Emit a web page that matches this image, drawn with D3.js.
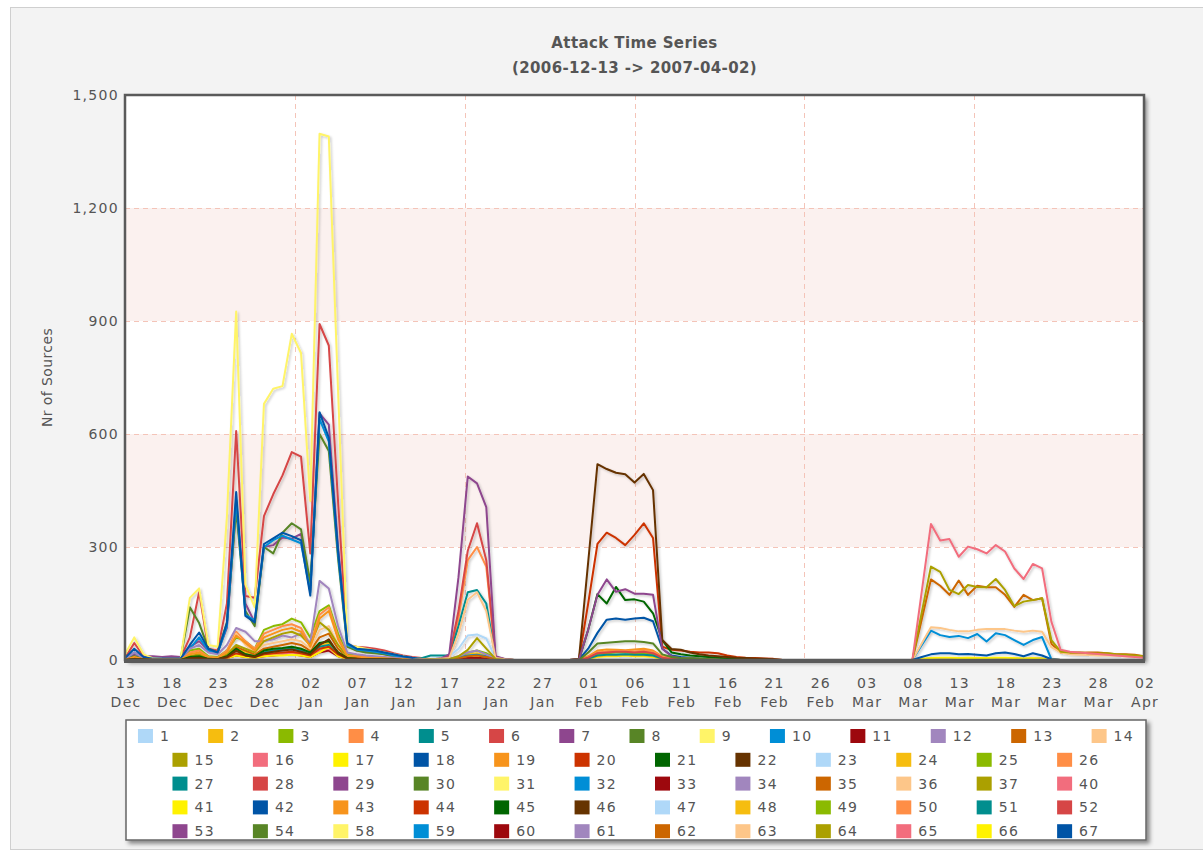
<!DOCTYPE html>
<html><head><meta charset="utf-8">
<script src="https://cdn.jsdelivr.net/npm/d3@7"></script>
<style>html,body{margin:0;padding:0;background:#fff;}svg{display:block;}</style>
</head><body>
<svg id="chart" width="1203" height="855"></svg>
<script>
// ---------- DATA ----------
const chartTitle = "Attack Time Series";
const chartSubtitle = "(2006-12-13 -> 2007-04-02)";
const yAxisTitle = "Nr of Sources";
const startDay = "2006-12-13";
const dayCount = 111;
const yTicks = [0, 300, 600, 900, 1200, 1500];
const xTickDays = ["13","18","23","28","02","07","12","17","22","27","01","06","11","16","21","26","03","08","13","18","23","28","02"];
const xTickMonths = ["Dec","Dec","Dec","Dec","Jan","Jan","Jan","Jan","Jan","Jan","Feb","Feb","Feb","Feb","Feb","Feb","Mar","Mar","Mar","Mar","Mar","Mar","Apr"];
const seriesNames = [1,2,3,4,5,6,7,8,9,10,11,12,13,14,15,16,17,18,19,20,21,22,23,24,25,26,27,28,29,30,31,32,33,34,35,36,37,40,41,42,43,44,45,46,47,48,49,50,51,52,53,54,58,59,60,61,62,63,64,65,66,67];
const palette = ["#AFD8F8","#F6BD0F","#8BBA00","#FF8E46","#008E8E","#D64646","#8E468E","#588526","#FFF468","#008ED6","#9D080D","#A186BE","#CC6600","#FDC689","#ABA000","#F26D7D","#FFF200","#0054A6","#F7941C","#CC3300","#006600","#663300"];

// one value per day, 13 Dec 2006 .. 02 Apr 2007 (groups of ten days)
const s1  = [1,8,2,1,1,1,1,6,8,3,  2,8,20,15,10,20,22,25,28,25,  15,35,40,18,5,4,3,2,1,1,  0,0,0,0,0,0,0,0,0,0,  0,0,0,0,0,0,0,0,0,0,  0,0,0,0,0,0,0,0,0,0,  0,0,0,0,0,0,0,0,0,0,  0,0,0,0,0,0,0,0,0,0,  0,0,0,0,0,0,0,0,0,0,  0,0,0,0,0,0,0,0,0,0,  0,0,0,0,0,0,0,0,0,0,  0];
const s2  = [1,5,2,1,1,1,1,8,10,4,  3,10,30,20,12,25,28,30,35,30,  18,40,45,20,5,4,3,2,2,1,  0,0,0,0,0,0,0,0,0,0,  0,0,0,0,0,0,0,0,0,0,  0,0,0,0,0,0,0,0,0,0,  0,0,0,0,0,0,0,0,0,0,  0,0,0,0,0,0,0,0,0,0,  0,0,0,0,0,0,0,0,0,0,  0,0,0,0,0,0,0,0,0,0,  0,0,0,0,0,0,0,0,0,0,  0];
const s3  = [2,8,3,2,2,2,2,25,30,10,  8,25,60,50,30,80,90,95,110,100,  60,130,145,70,15,12,10,8,6,5,  3,0,0,0,0,0,0,0,0,0,  0,0,0,0,0,0,0,0,0,0,  0,0,0,0,0,0,0,0,0,0,  0,0,0,0,0,0,0,0,0,0,  0,0,0,0,0,0,0,0,0,0,  0,0,0,0,0,0,0,0,0,0,  0,0,0,0,0,0,0,0,0,0,  0,0,0,0,0,0,0,0,0,0,  0];
const s4  = [2,10,3,2,2,2,2,20,25,8,  6,25,75,50,30,70,80,90,95,85,  40,120,140,60,12,10,8,6,5,4,  2,0,0,0,0,0,0,0,0,0,  0,0,0,0,0,0,0,0,0,0,  0,0,0,0,0,0,0,0,0,0,  0,0,0,0,0,0,0,0,0,0,  0,0,0,0,0,0,0,0,0,0,  0,0,0,0,0,0,0,0,0,0,  0,0,0,0,0,0,0,0,0,0,  0,0,0,0,0,0,0,0,0,0,  0];
const s5  = [1,3,1,1,1,1,1,8,10,4,  3,8,25,15,10,20,25,28,30,25,  15,35,40,15,5,4,3,2,1,1,  0,0,0,0,0,0,0,0,0,0,  0,0,0,0,0,0,0,0,0,0,  0,0,0,0,0,0,0,0,0,0,  0,0,0,0,0,0,0,0,0,0,  0,0,0,0,0,0,0,0,0,0,  0,0,0,0,0,0,0,0,0,0,  0,0,0,0,0,0,0,0,0,0,  0,0,0,0,0,0,0,0,0,0,  0];
const s6  = [5,45,10,5,5,5,5,60,180,30,  25,150,608,170,165,382,440,490,552,540,  283,892,835,420,40,35,33,30,25,18,  12,8,5,2,0,0,0,0,0,0,  0,0,0,0,0,0,0,0,0,0,  0,0,0,0,0,0,0,0,0,0,  0,0,0,0,0,0,0,0,0,0,  0,0,0,0,0,0,0,0,0,0,  0,0,0,0,0,0,0,0,0,0,  0,0,0,0,0,0,0,0,0,0,  0,0,0,0,0,0,0,0,0,0,  0];
const s7  = [3,15,10,10,8,10,8,35,50,25,  20,85,410,150,100,300,305,325,322,335,  185,655,625,300,40,25,22,20,15,10,  6,3,0,0,0,0,0,0,0,0,  0,0,0,0,0,0,0,0,0,0,  0,0,0,0,0,0,0,0,0,0,  0,0,0,0,0,0,0,0,0,0,  0,0,0,0,0,0,0,0,0,0,  0,0,0,0,0,0,0,0,0,0,  0,0,0,0,0,0,0,0,0,0,  0,0,0,0,0,0,0,0,0,0,  0];
const s8  = [3,10,5,3,3,3,3,140,98,30,  20,100,400,130,90,300,283,338,363,347,  205,600,555,270,35,25,20,18,15,10,  6,3,0,0,0,0,0,0,0,0,  0,0,0,0,0,0,0,0,0,0,  0,0,0,0,0,0,0,0,0,0,  0,0,0,0,0,0,0,0,0,0,  0,0,0,0,0,0,0,0,0,0,  0,0,0,0,0,0,0,0,0,0,  0,0,0,0,0,0,0,0,0,0,  0,0,0,0,0,0,0,0,0,0,  0];
const s9  = [15,60,15,5,3,2,3,165,190,40,  35,380,925,200,140,680,720,727,866,815,  422,1397,1390,715,40,35,30,25,20,15,  10,5,3,0,0,0,0,0,0,0,  0,0,0,0,0,0,0,0,0,0,  0,0,0,0,0,0,0,0,0,0,  0,0,0,0,0,0,0,0,0,0,  0,0,0,0,0,0,0,0,0,0,  0,0,0,0,0,0,0,0,0,0,  0,0,0,0,0,0,0,0,0,0,  0,0,0,0,0,0,0,0,0,0,  0];
const s10 = [3,20,5,3,3,3,3,30,60,25,  18,90,425,120,105,300,318,330,320,310,  180,640,580,280,40,28,25,22,18,12,  8,5,2,0,0,0,0,0,0,0,  0,0,0,0,0,0,0,0,0,0,  0,0,0,0,0,0,0,0,0,0,  0,0,0,0,0,0,0,0,0,0,  0,0,0,0,0,0,0,0,0,0,  0,0,0,0,0,0,0,0,0,0,  0,0,0,0,0,0,0,0,0,0,  0,0,0,0,0,0,0,0,0,0,  0];
const s11 = [0,2,1,0,0,0,0,4,5,2,  2,5,12,8,6,10,12,14,15,12,  8,20,25,10,3,2,2,1,1,0,  0,0,0,0,0,0,0,0,0,0,  0,0,0,0,0,0,0,0,0,0,  0,0,0,0,0,0,0,0,0,0,  0,0,0,0,0,0,0,0,0,0,  0,0,0,0,0,0,0,0,0,0,  0,0,0,0,0,0,0,0,0,0,  0,0,0,0,0,0,0,0,0,0,  0,0,0,0,0,0,0,0,0,0,  0];
const s12 = [2,20,5,3,3,3,3,30,40,20,  15,40,85,75,50,50,55,65,60,70,  45,210,190,90,20,15,12,10,8,6,  4,2,0,0,0,0,0,0,0,0,  0,0,0,0,0,0,0,0,0,0,  0,0,0,0,0,0,0,0,0,0,  0,0,0,0,0,0,0,0,0,0,  0,0,0,0,0,0,0,0,0,0,  0,0,0,0,0,0,0,0,0,0,  0,0,0,0,0,0,0,0,0,0,  0,0,0,0,0,0,0,0,0,0,  0];
const s13 = [1,5,2,1,1,1,1,10,12,5,  4,12,35,25,15,30,35,40,45,40,  25,60,70,30,8,6,5,4,3,2,  1,0,0,0,0,0,0,0,0,0,  0,0,0,0,0,0,0,0,0,0,  0,0,0,0,0,0,0,0,0,0,  0,0,0,0,0,0,0,0,0,0,  0,0,0,0,0,0,0,0,0,0,  0,0,0,0,0,0,0,0,0,0,  0,0,0,0,0,0,0,0,0,0,  0,0,0,0,0,0,0,0,0,0,  0];
const s14 = [1,4,2,1,1,1,1,8,10,4,  3,15,70,40,20,40,45,50,55,50,  30,80,90,40,8,6,5,4,3,2,  0,0,0,0,0,0,0,0,0,0,  0,0,0,0,0,0,0,0,0,0,  0,0,0,0,0,0,0,0,0,0,  0,0,0,0,0,0,0,0,0,0,  0,0,0,0,0,0,0,0,0,0,  0,0,0,0,0,0,0,0,0,0,  0,0,0,0,0,0,0,0,0,0,  0,0,0,0,0,0,0,0,0,0,  0];
const s15 = [1,5,2,1,1,1,1,10,15,5,  4,15,40,30,20,50,60,70,75,65,  40,100,80,40,8,6,5,4,3,2,  1,0,0,0,0,0,0,0,0,0,  0,0,0,0,0,0,0,0,0,0,  0,0,0,0,0,0,0,0,0,0,  0,0,0,0,0,0,0,0,0,0,  0,0,0,0,0,0,0,0,0,0,  0,0,0,0,0,0,0,0,0,0,  0,0,0,0,0,0,0,0,0,0,  0,0,0,0,0,0,0,0,0,0,  0];
const s16 = [0,3,1,0,0,0,0,5,6,2,  2,6,15,10,8,12,15,15,18,15,  10,25,30,12,3,2,2,1,1,0,  0,0,0,0,0,0,0,0,0,0,  0,0,0,0,0,0,0,0,0,0,  0,0,0,0,0,0,0,0,0,0,  0,0,0,0,0,0,0,0,0,0,  0,0,0,0,0,0,0,0,0,0,  0,0,0,0,0,0,0,0,0,0,  0,0,0,0,0,0,0,0,0,0,  0,0,0,0,0,0,0,0,0,0,  0];
const s17 = [0,2,1,0,0,0,0,4,5,2,  1,5,12,8,6,10,12,12,14,12,  8,20,35,10,3,2,1,1,0,0,  0,0,0,0,0,0,0,0,0,0,  0,0,0,0,0,0,0,0,0,0,  0,0,0,0,0,0,0,0,0,0,  0,0,0,0,0,0,0,0,0,0,  0,0,0,0,0,0,0,0,0,0,  0,0,0,0,0,0,0,0,0,0,  0,0,0,0,0,0,0,0,0,0,  0,0,0,0,0,0,0,0,0,0,  0];
const s18 = [5,30,8,3,3,3,3,40,73,30,  20,98,446,117,100,308,323,338,329,318,  171,658,590,290,45,30,28,25,20,15,  10,6,3,0,0,0,0,0,0,0,  0,0,0,0,0,0,0,0,0,0,  0,0,0,0,0,0,0,0,0,0,  0,0,0,0,0,0,0,0,0,0,  0,0,0,0,0,0,0,0,0,0,  0,0,0,0,0,0,0,0,0,0,  0,0,0,0,0,0,0,0,0,0,  0,0,0,0,0,0,0,0,0,0,  0];
const s19 = [1,8,2,1,1,1,1,15,20,6,  5,20,65,45,25,60,70,80,85,75,  35,110,130,55,10,8,6,5,4,3,  2,0,0,0,0,0,0,0,0,0,  0,0,0,0,0,0,0,0,0,0,  0,0,0,0,0,0,0,0,0,0,  0,0,0,0,0,0,0,0,0,0,  0,0,0,0,0,0,0,0,0,0,  0,0,0,0,0,0,0,0,0,0,  0,0,0,0,0,0,0,0,0,0,  0,0,0,0,0,0,0,0,0,0,  0];
const s20 = [0,3,1,0,0,0,0,5,6,2,  2,6,18,12,8,15,18,20,22,18,  12,30,35,15,4,3,2,2,1,1,  0,0,0,0,0,0,0,0,0,0,  0,0,0,0,0,0,0,0,0,0,  0,0,0,0,0,0,0,0,0,0,  0,0,0,0,0,0,0,0,0,0,  0,0,0,0,0,0,0,0,0,0,  0,0,0,0,0,0,0,0,0,0,  0,0,0,0,0,0,0,0,0,0,  0,0,0,0,0,0,0,0,0,0,  0];
const s21 = [0,2,1,0,0,0,0,8,10,3,  2,10,30,15,10,25,30,32,35,30,  20,45,50,20,5,3,2,2,1,1,  0,0,0,0,0,0,0,0,0,0,  0,0,0,0,0,0,0,0,0,0,  0,0,0,0,0,0,0,0,0,0,  0,0,0,0,0,0,0,0,0,0,  0,0,0,0,0,0,0,0,0,0,  0,0,0,0,0,0,0,0,0,0,  0,0,0,0,0,0,0,0,0,0,  0,0,0,0,0,0,0,0,0,0,  0];
const s22 = [0,2,1,0,0,0,0,5,6,2,  2,8,25,12,8,18,22,25,28,22,  15,40,55,18,4,3,2,2,1,1,  0,0,0,0,0,0,0,0,0,0,  0,0,0,0,0,0,0,0,0,0,  0,0,0,0,0,0,0,0,0,0,  0,0,0,0,0,0,0,0,0,0,  0,0,0,0,0,0,0,0,0,0,  0,0,0,0,0,0,0,0,0,0,  0,0,0,0,0,0,0,0,0,0,  0,0,0,0,0,0,0,0,0,0,  0];
const s23 = [0,0,0,0,0,0,0,0,0,0,  0,0,0,0,0,0,0,0,0,0,  0,0,0,0,0,0,0,0,0,0,  0,0,2,3,5,10,30,65,68,57,  5,2,0,0,0,0,0,0,0,0,  0,0,0,0,0,0,0,0,0,0,  0,0,0,0,0,0,0,0,0,0,  0,0,0,0,0,0,0,0,0,0,  0,0,0,0,0,0,0,0,0,0,  0,0,0,0,0,0,0,0,0,0,  0,0,0,0,0,0,0,0,0,0,  0];
const s24 = [0,0,0,0,0,0,0,0,0,0,  0,0,0,0,0,0,0,0,0,0,  0,0,0,0,0,0,0,0,0,0,  0,0,0,1,1,3,8,15,18,12,  2,1,0,0,0,0,0,0,0,0,  0,0,0,0,0,0,0,0,0,0,  0,0,0,0,0,0,0,0,0,0,  0,0,0,0,0,0,0,0,0,0,  0,0,0,0,0,0,0,0,0,0,  0,0,0,0,0,0,0,0,0,0,  0,0,0,0,0,0,0,0,0,0,  0];
const s25 = [0,0,0,0,0,0,0,0,0,0,  0,0,0,0,0,0,0,0,0,0,  0,0,0,0,0,0,0,0,0,0,  0,0,0,1,1,3,5,20,25,18,  3,1,0,0,0,0,0,0,0,0,  0,0,0,0,0,0,0,0,0,0,  0,0,0,0,0,0,0,0,0,0,  0,0,0,0,0,0,0,0,0,0,  0,0,0,0,0,0,0,0,0,0,  0,0,0,0,0,0,0,0,0,0,  0,0,0,0,0,0,0,0,0,0,  0];
const s26 = [0,0,0,0,0,0,0,0,0,0,  0,0,0,0,0,0,0,0,0,0,  0,0,0,0,0,0,0,0,0,0,  0,0,1,2,3,8,110,265,300,248,  8,2,0,0,0,0,0,0,0,0,  0,0,0,0,0,0,0,0,0,0,  0,0,0,0,0,0,0,0,0,0,  0,0,0,0,0,0,0,0,0,0,  0,0,0,0,0,0,0,0,0,0,  0,0,0,0,0,0,0,0,0,0,  0,0,0,0,0,0,0,0,0,0,  0];
const s27 = [0,0,0,0,0,0,0,0,0,0,  0,0,0,0,0,0,0,0,0,0,  0,0,0,0,0,0,0,0,0,0,  0,0,5,12,12,12,90,180,186,150,  5,2,0,0,0,0,0,0,0,0,  0,0,0,0,0,0,0,0,0,0,  0,0,0,0,0,0,0,0,0,0,  0,0,0,0,0,0,0,0,0,0,  0,0,0,0,0,0,0,0,0,0,  0,0,0,0,0,0,0,0,0,0,  0,0,0,0,0,0,0,0,0,0,  0];
const s28 = [0,0,0,0,0,0,0,0,0,0,  0,0,0,0,0,0,0,0,0,0,  0,0,0,0,0,0,0,0,0,0,  0,0,1,2,3,10,130,290,363,265,  8,2,0,0,0,0,0,0,0,0,  0,0,0,0,0,0,0,0,0,0,  0,0,0,0,0,0,0,0,0,0,  0,0,0,0,0,0,0,0,0,0,  0,0,0,0,0,0,0,0,0,0,  0,0,0,0,0,0,0,0,0,0,  0,0,0,0,0,0,0,0,0,0,  0];
const s29 = [0,0,0,0,0,0,0,0,0,0,  0,0,0,0,0,0,0,0,0,0,  0,0,0,0,0,0,0,0,0,0,  0,0,1,2,3,15,220,487,469,406,  10,3,0,0,0,0,0,0,0,0,  0,0,0,0,0,0,0,0,0,0,  0,0,0,0,0,0,0,0,0,0,  0,0,0,0,0,0,0,0,0,0,  0,0,0,0,0,0,0,0,0,0,  0,0,0,0,0,0,0,0,0,0,  0,0,0,0,0,0,0,0,0,0,  0];
const s30 = [0,0,0,0,0,0,0,0,0,0,  0,0,0,0,0,0,0,0,0,0,  0,0,0,0,0,0,0,0,0,0,  0,0,0,1,1,2,5,10,12,8,  2,0,0,0,0,0,0,0,0,0,  0,0,0,0,0,0,0,0,0,0,  0,0,0,0,0,0,0,0,0,0,  0,0,0,0,0,0,0,0,0,0,  0,0,0,0,0,0,0,0,0,0,  0,0,0,0,0,0,0,0,0,0,  0,0,0,0,0,0,0,0,0,0,  0];
const s31 = [0,0,0,0,0,0,0,0,0,0,  0,0,0,0,0,0,0,0,0,0,  0,0,0,0,0,0,0,0,0,0,  0,0,0,1,1,2,4,8,10,6,  1,0,0,0,0,0,0,0,0,0,  0,0,0,0,0,0,0,0,0,0,  0,0,0,0,0,0,0,0,0,0,  0,0,0,0,0,0,0,0,0,0,  0,0,0,0,0,0,0,0,0,0,  0,0,0,0,0,0,0,0,0,0,  0,0,0,0,0,0,0,0,0,0,  0];
const s32 = [0,0,0,0,0,0,0,0,0,0,  0,0,0,0,0,0,0,0,0,0,  0,0,0,0,0,0,0,0,0,0,  0,0,0,1,2,3,6,12,14,10,  2,0,0,0,0,0,0,0,0,0,  0,0,0,0,0,0,0,0,0,0,  0,0,0,0,0,0,0,0,0,0,  0,0,0,0,0,0,0,0,0,0,  0,0,0,0,0,0,0,0,0,0,  0,0,0,0,0,0,0,0,0,0,  0,0,0,0,0,0,0,0,0,0,  0];
const s33 = [0,0,0,0,0,0,0,0,0,0,  0,0,0,0,0,0,0,0,0,0,  0,0,0,0,0,0,0,0,0,0,  0,0,0,0,1,2,3,5,6,4,  1,0,0,0,0,0,0,0,0,0,  0,0,0,0,0,0,0,0,0,0,  0,0,0,0,0,0,0,0,0,0,  0,0,0,0,0,0,0,0,0,0,  0,0,0,0,0,0,0,0,0,0,  0,0,0,0,0,0,0,0,0,0,  0,0,0,0,0,0,0,0,0,0,  0];
const s34 = [0,0,0,0,0,0,0,0,0,0,  0,0,0,0,0,0,0,0,0,0,  0,0,0,0,0,0,0,0,0,0,  0,0,0,1,1,3,10,20,25,15,  3,0,0,0,0,0,0,0,0,0,  0,0,0,0,0,0,0,0,0,0,  0,0,0,0,0,0,0,0,0,0,  0,0,0,0,0,0,0,0,0,0,  0,0,0,0,0,0,0,0,0,0,  0,0,0,0,0,0,0,0,0,0,  0,0,0,0,0,0,0,0,0,0,  0];
const s35 = [0,0,0,0,0,0,0,0,0,0,  0,0,0,0,0,0,0,0,0,0,  0,0,0,0,0,0,0,0,0,0,  0,0,0,1,1,2,5,10,12,8,  2,0,0,0,0,0,0,0,0,0,  0,0,0,0,0,0,0,0,0,0,  0,0,0,0,0,0,0,0,0,0,  0,0,0,0,0,0,0,0,0,0,  0,0,0,0,0,0,0,0,0,0,  0,0,0,0,0,0,0,0,0,0,  0,0,0,0,0,0,0,0,0,0,  0];
const s36 = [0,0,0,0,0,0,0,0,0,0,  0,0,0,0,0,0,0,0,0,0,  0,0,0,0,0,0,0,0,0,0,  0,0,1,2,3,5,70,160,180,130,  5,2,0,0,0,0,0,0,0,0,  0,0,0,0,0,0,0,0,0,0,  0,0,0,0,0,0,0,0,0,0,  0,0,0,0,0,0,0,0,0,0,  0,0,0,0,0,0,0,0,0,0,  0,0,0,0,0,0,0,0,0,0,  0,0,0,0,0,0,0,0,0,0,  0];
const s37 = [0,0,0,0,0,0,0,0,0,0,  0,0,0,0,0,0,0,0,0,0,  0,0,0,0,0,0,0,0,0,0,  0,0,0,1,1,2,10,27,58,30,  3,0,0,0,0,0,0,0,0,0,  0,0,0,0,0,0,0,0,0,0,  0,0,0,0,0,0,0,0,0,0,  0,0,0,0,0,0,0,0,0,0,  0,0,0,0,0,0,0,0,0,0,  0,0,0,0,0,0,0,0,0,0,  0,0,0,0,0,0,0,0,0,0,  0];
const s40 = [0,0,0,0,0,0,0,0,0,0,  0,0,0,0,0,0,0,0,0,0,  0,0,0,0,0,0,0,0,0,0,  0,0,0,0,0,0,0,0,0,0,  0,0,0,0,0,0,0,0,0,1,  8,20,22,25,24,22,24,20,8,4,  3,2,1,0,0,0,0,0,0,0,  0,0,0,0,0,0,0,0,0,0,  0,0,0,0,0,0,0,0,0,0,  0,0,0,0,0,0,0,0,0,0,  0,0,0,0,0,0,0,0,0,0,  0];
const s41 = [0,0,0,0,0,0,0,0,0,0,  0,0,0,0,0,0,0,0,0,0,  0,0,0,0,0,0,0,0,0,0,  0,0,0,0,0,0,0,0,0,0,  0,0,0,0,0,0,0,0,0,0,  3,8,10,10,12,10,10,8,3,1,  0,0,0,0,0,0,0,0,0,0,  0,0,0,0,0,0,0,0,0,0,  0,0,0,0,0,0,0,0,0,0,  0,0,0,0,0,0,0,0,0,0,  0,0,0,0,0,0,0,0,0,0,  0];
const s42 = [0,0,0,0,0,0,0,0,0,0,  0,0,0,0,0,0,0,0,0,0,  0,0,0,0,0,0,0,0,0,0,  0,0,0,0,0,0,0,0,0,0,  0,0,0,0,0,0,0,0,0,1,  30,72,107,110,107,110,112,103,30,12,  8,6,4,3,2,1,0,0,0,0,  0,0,0,0,0,0,0,0,0,0,  0,0,0,0,0,0,0,0,0,0,  0,0,0,0,0,0,0,0,0,0,  0,0,0,0,0,0,0,0,0,0,  0];
const s43 = [0,0,0,0,0,0,0,0,0,0,  0,0,0,0,0,0,0,0,0,0,  0,0,0,0,0,0,0,0,0,0,  0,0,0,0,0,0,0,0,0,0,  0,0,0,0,0,0,0,0,0,1,  10,25,28,27,26,28,30,25,10,6,  5,4,3,2,1,0,0,0,0,0,  0,0,0,0,0,0,0,0,0,0,  0,0,0,0,0,0,0,0,0,0,  0,0,0,0,0,0,0,0,0,0,  0,0,0,0,0,0,0,0,0,0,  0];
const s44 = [0,0,0,0,0,0,0,0,0,0,  0,0,0,0,0,0,0,0,0,0,  0,0,0,0,0,0,0,0,0,0,  0,0,0,0,0,0,0,0,0,0,  0,0,0,0,0,0,0,0,0,2,  150,308,338,324,305,332,363,324,35,27,  25,22,20,20,18,12,8,6,5,4,  3,0,0,0,0,0,0,0,0,0,  0,0,0,0,0,0,0,0,0,0,  0,0,0,0,0,0,0,0,0,0,  0,0,0,0,0,0,0,0,0,0,  0];
const s45 = [0,0,0,0,0,0,0,0,0,0,  0,0,0,0,0,0,0,0,0,0,  0,0,0,0,0,0,0,0,0,0,  0,0,0,0,0,0,0,0,0,0,  0,0,0,0,0,0,0,0,0,1,  80,175,150,194,159,161,155,124,53,20,  15,12,10,8,6,4,3,2,1,0,  0,0,0,0,0,0,0,0,0,0,  0,0,0,0,0,0,0,0,0,0,  0,0,0,0,0,0,0,0,0,0,  0,0,0,0,0,0,0,0,0,0,  0];
const s46 = [0,0,0,0,0,0,0,0,0,0,  0,0,0,0,0,0,0,0,0,0,  0,0,0,0,0,0,0,0,0,0,  0,0,0,0,0,0,0,0,0,0,  0,0,0,0,0,0,0,0,0,2,  260,520,507,497,493,471,494,451,53,29,  27,20,15,12,10,8,6,5,4,3,  2,0,0,0,0,0,0,0,0,0,  0,0,0,0,0,0,0,0,0,0,  0,0,0,0,0,0,0,0,0,0,  0,0,0,0,0,0,0,0,0,0,  0];
const s47 = [0,0,0,0,0,0,0,0,0,0,  0,0,0,0,0,0,0,0,0,0,  0,0,0,0,0,0,0,0,0,0,  0,0,0,0,0,0,0,0,0,0,  0,0,0,0,0,0,0,0,0,0,  5,15,18,18,20,18,18,15,5,2,  0,0,0,0,0,0,0,0,0,0,  0,0,0,0,0,0,0,0,0,0,  0,0,0,0,0,0,0,0,0,0,  0,0,0,0,0,0,0,0,0,0,  0,0,0,0,0,0,0,0,0,0,  0];
const s48 = [0,0,0,0,0,0,0,0,0,0,  0,0,0,0,0,0,0,0,0,0,  0,0,0,0,0,0,0,0,0,0,  0,0,0,0,0,0,0,0,0,0,  0,0,0,0,0,0,0,0,0,0,  4,10,12,12,14,12,12,10,4,2,  0,0,0,0,0,0,0,0,0,0,  0,0,0,0,0,0,0,0,0,0,  0,0,0,0,0,0,0,0,0,0,  0,0,0,0,0,0,0,0,0,0,  0,0,0,0,0,0,0,0,0,0,  0];
const s49 = [0,0,0,0,0,0,0,0,0,0,  0,0,0,0,0,0,0,0,0,0,  0,0,0,0,0,0,0,0,0,0,  0,0,0,0,0,0,0,0,0,0,  0,0,0,0,0,0,0,0,0,0,  6,16,18,20,20,18,18,15,6,3,  0,0,0,0,0,0,0,0,0,0,  0,0,0,0,0,0,0,0,0,0,  0,0,0,0,0,0,0,0,0,0,  0,0,0,0,0,0,0,0,0,0,  0,0,0,0,0,0,0,0,0,0,  0];
const s50 = [0,0,0,0,0,0,0,0,0,0,  0,0,0,0,0,0,0,0,0,0,  0,0,0,0,0,0,0,0,0,0,  0,0,0,0,0,0,0,0,0,0,  0,0,0,0,0,0,0,0,0,0,  8,20,22,24,24,22,25,22,8,4,  3,2,0,0,0,0,0,0,0,0,  0,0,0,0,0,0,0,0,0,0,  0,0,0,0,0,0,0,0,0,0,  0,0,0,0,0,0,0,0,0,0,  0,0,0,0,0,0,0,0,0,0,  0];
const s51 = [0,0,0,0,0,0,0,0,0,0,  0,0,0,0,0,0,0,0,0,0,  0,0,0,0,0,0,0,0,0,0,  0,0,0,0,0,0,0,0,0,0,  0,0,0,0,0,0,0,0,0,0,  4,12,14,14,15,14,14,12,4,2,  0,0,0,0,0,0,0,0,0,0,  0,0,0,0,0,0,0,0,0,0,  0,0,0,0,0,0,0,0,0,0,  0,0,0,0,0,0,0,0,0,0,  0,0,0,0,0,0,0,0,0,0,  0];
const s52 = [0,0,0,0,0,0,0,0,0,0,  0,0,0,0,0,0,0,0,0,0,  0,0,0,0,0,0,0,0,0,0,  0,0,0,0,0,0,0,0,0,0,  0,0,0,0,0,0,0,0,0,0,  6,18,20,22,22,20,22,18,6,3,  2,1,0,0,0,0,0,0,0,0,  0,0,0,0,0,0,0,0,0,0,  0,0,0,0,0,0,0,0,0,0,  0,0,0,0,0,0,0,0,0,0,  0,0,0,0,0,0,0,0,0,0,  0];
const s53 = [0,0,0,0,0,0,0,0,0,0,  0,0,0,0,0,0,0,0,0,0,  0,0,0,0,0,0,0,0,0,0,  0,0,0,0,0,0,0,0,0,0,  0,0,0,0,0,0,0,0,0,1,  80,173,214,181,188,176,176,173,30,10,  5,3,2,1,0,0,0,0,0,0,  0,0,0,0,0,0,0,0,0,0,  0,0,0,0,0,0,0,0,0,0,  0,0,0,0,0,0,0,0,0,0,  0,0,0,0,0,0,0,0,0,0,  0];
const s54 = [0,0,0,0,0,0,0,0,0,0,  0,0,0,0,0,0,0,0,0,0,  0,0,0,0,0,0,0,0,0,0,  0,0,0,0,0,0,0,0,0,0,  0,0,0,0,0,0,0,0,0,0,  20,44,46,48,50,50,48,44,15,8,  5,4,3,2,1,0,0,0,0,0,  0,0,0,0,0,0,0,0,0,0,  0,0,0,0,0,0,0,0,0,0,  0,0,0,0,0,0,0,0,0,0,  0,0,0,0,0,0,0,0,0,0,  0];
const s58 = [0,0,0,0,0,0,0,0,0,0,  0,0,0,0,0,0,0,0,0,0,  0,0,0,0,0,0,0,0,0,0,  0,0,0,0,0,0,0,0,0,0,  0,0,0,0,0,0,0,0,0,0,  0,0,0,0,0,0,0,0,0,0,  0,0,0,0,0,0,0,0,0,0,  0,0,0,0,0,0,0,0,0,0,  0,0,0,0,0,0,2,4,4,5,  4,4,5,4,4,5,4,3,4,3,  1,0,0,0,0,0,0,0,0,0,  0];
const s59 = [0,0,0,0,0,0,0,0,0,0,  0,0,0,0,0,0,0,0,0,0,  0,0,0,0,0,0,0,0,0,0,  0,0,0,0,0,0,0,0,0,0,  0,0,0,0,0,0,0,0,0,0,  0,0,0,0,0,0,0,0,0,0,  0,0,0,0,0,0,0,0,0,0,  0,0,0,0,0,0,0,0,0,0,  0,0,0,0,0,0,39,78,66,61,  64,58,69,49,71,66,53,40,53,61,  2,0,0,0,0,0,0,0,0,0,  0];
const s60 = [0,0,0,0,0,0,0,0,0,0,  0,0,0,0,0,0,0,0,0,0,  0,0,0,0,0,0,0,0,0,0,  0,0,0,0,0,0,0,0,0,0,  0,0,0,0,0,0,0,0,0,0,  0,0,0,0,0,0,0,0,0,0,  0,0,0,0,0,0,0,0,0,0,  0,0,0,0,0,0,0,0,0,0,  0,0,0,0,0,0,2,3,3,4,  3,3,4,3,3,4,3,2,3,3,  1,0,0,0,0,0,0,0,0,0,  0];
const s61 = [0,0,0,0,0,0,0,0,0,0,  0,0,0,0,0,0,0,0,0,0,  0,0,0,0,0,0,0,0,0,0,  0,0,0,0,0,0,0,0,0,0,  0,0,0,0,0,0,0,0,0,0,  0,0,0,0,0,0,0,0,0,0,  0,0,0,0,0,0,0,0,0,0,  0,0,0,0,0,0,0,0,0,0,  0,0,0,0,0,0,2,4,5,5,  4,5,4,4,5,5,4,3,4,3,  1,0,0,0,0,0,0,0,0,0,  0];
const s62 = [0,0,0,0,0,0,0,0,0,0,  0,0,0,0,0,0,0,0,0,0,  0,0,0,0,0,0,0,0,0,0,  0,0,0,0,0,0,0,0,0,0,  0,0,0,0,0,0,0,0,0,0,  0,0,0,0,0,0,0,0,0,0,  0,0,0,0,0,0,0,0,0,0,  0,0,0,0,0,0,0,0,0,0,  0,0,0,0,0,0,107,214,197,173,  211,173,197,193,193,173,141,173,159,164,  43,20,18,19,20,20,18,15,15,14,  10];
const s63 = [0,0,0,0,0,0,0,0,0,0,  0,0,0,0,0,0,0,0,0,0,  0,0,0,0,0,0,0,0,0,0,  0,0,0,0,0,0,0,0,0,0,  0,0,0,0,0,0,0,0,0,0,  0,0,0,0,0,0,0,0,0,0,  0,0,0,0,0,0,0,0,0,0,  0,0,0,0,0,0,0,0,0,0,  0,0,0,0,0,0,44,87,85,80,  76,76,80,82,82,82,78,75,78,75,  34,20,15,14,13,12,12,11,10,9,  8];
const s64 = [0,0,0,0,0,0,0,0,0,0,  0,0,0,0,0,0,0,0,0,0,  0,0,0,0,0,0,0,0,0,0,  0,0,0,0,0,0,0,0,0,0,  0,0,0,0,0,0,0,0,0,0,  0,0,0,0,0,0,0,0,0,0,  0,0,0,0,0,0,0,0,0,0,  0,0,0,0,0,0,0,0,0,0,  0,0,0,0,0,0,125,248,234,186,  175,199,194,193,215,186,143,155,159,164,  53,22,20,20,18,17,18,15,14,12,  10];
const s65 = [0,0,0,0,0,0,0,0,0,0,  0,0,0,0,0,0,0,0,0,0,  0,0,0,0,0,0,0,0,0,0,  0,0,0,0,0,0,0,0,0,0,  0,0,0,0,0,0,0,0,0,0,  0,0,0,0,0,0,0,0,0,0,  0,0,0,0,0,0,0,0,0,0,  0,0,0,0,0,0,0,0,0,0,  0,0,0,0,0,0,180,361,317,321,  274,301,294,283,305,288,243,215,255,243,  102,27,22,20,18,16,14,12,10,8,  6];
const s66 = [0,0,0,0,0,0,0,0,0,0,  0,0,0,0,0,0,0,0,0,0,  0,0,0,0,0,0,0,0,0,0,  0,0,0,0,0,0,0,0,0,0,  0,0,0,0,0,0,0,0,0,0,  0,0,0,0,0,0,0,0,0,0,  0,0,0,0,0,0,0,0,0,0,  0,0,0,0,0,0,0,0,0,0,  0,0,0,0,0,0,3,5,6,6,  5,6,5,5,6,6,5,4,5,4,  1,0,0,0,0,0,0,0,0,0,  0];
const s67 = [0,0,0,0,0,0,0,0,0,0,  0,0,0,0,0,0,0,0,0,0,  0,0,0,0,0,0,0,0,0,0,  0,0,0,0,0,0,0,0,0,0,  0,0,0,0,0,0,0,0,0,0,  0,0,0,0,0,0,0,0,0,0,  0,0,0,0,0,0,0,0,0,0,  0,0,0,0,0,0,0,0,0,0,  0,0,0,0,0,0,8,15,18,18,  15,16,14,12,18,20,16,10,18,12,  2,0,0,0,0,0,0,0,0,0,  0];

const seriesValues = [s1,s2,s3,s4,s5,s6,s7,s8,s9,s10,s11,s12,s13,s14,s15,s16,s17,s18,s19,s20,s21,s22,s23,s24,s25,s26,s27,s28,s29,s30,s31,s32,s33,s34,s35,s36,s37,s40,s41,s42,s43,s44,s45,s46,s47,s48,s49,s50,s51,s52,s53,s54,s58,s59,s60,s61,s62,s63,s64,s65,s66,s67];

// ---------- LAYOUT ----------
const W = 1203, H = 855;
const plot = {left: 125, right: 1144, top: 95, bottom: 660};
const FONT = "'DejaVu Sans', Verdana, sans-serif";
const TXT = "#555555";
const LS = "1.3px";

const svg = d3.select("#chart");
const defs = svg.append("defs");
const f1 = defs.append("filter").attr("id","cshadow").attr("x","-5%").attr("y","-5%").attr("width","115%").attr("height","115%");
f1.append("feDropShadow").attr("dx",3).attr("dy",3).attr("stdDeviation",2).attr("flood-color","#000").attr("flood-opacity",0.45);
const f2 = defs.append("filter").attr("id","lshadow").attr("x","-5%").attr("y","-5%").attr("width","115%").attr("height","115%");
f2.append("feDropShadow").attr("dx",1.5).attr("dy",1.5).attr("stdDeviation",1).attr("flood-color","#000").attr("flood-opacity",0.22);
defs.append("clipPath").attr("id","pclip").append("rect")
  .attr("x",plot.left).attr("y",plot.top-2).attr("width",plot.right-plot.left).attr("height",plot.bottom-plot.top+2);

// outer background
svg.append("rect").attr("x",0).attr("y",0).attr("width",W).attr("height",H).attr("fill","#ffffff");
svg.append("rect").attr("x",10.5).attr("y",7.5).attr("width",W).attr("height",H-13).attr("fill","#f3f3f3").attr("stroke","#cfcfcf");

// scales
const t0 = new Date(startDay + "T00:00:00Z");
const dates = d3.range(dayCount).map(i => d3.utcDay.offset(t0, i));
const x = d3.scaleUtc().domain([dates[0], dates[dayCount-1]]).range([plot.left, plot.right]);
const y = d3.scaleLinear().domain([0, 1500]).range([plot.bottom, plot.top]);

// canvas
svg.append("rect").attr("x",plot.left).attr("y",plot.top).attr("width",plot.right-plot.left).attr("height",plot.bottom-plot.top)
  .attr("fill","#ffffff").attr("filter","url(#cshadow)");
const bands = [[300,600],[900,1200]];
svg.append("g").selectAll("rect").data(bands).join("rect")
  .attr("x",plot.left).attr("width",plot.right-plot.left)
  .attr("y",d=>y(d[1])).attr("height",d=>y(d[0])-y(d[1])).attr("fill","#fbf1ef");
svg.append("g").selectAll("line").data(yTicks.filter(v=>v>0 && v<1500)).join("line")
  .attr("x1",plot.left).attr("x2",plot.right).attr("y1",d=>y(d)+0.5).attr("y2",d=>y(d)+0.5)
  .attr("stroke","#f4c4b8").attr("stroke-dasharray","5,4").attr("stroke-width",1);
const vdiv = d3.range(1,6).map(k => plot.left + (plot.right-plot.left)*k/6);
svg.append("g").selectAll("line").data(vdiv).join("line")
  .attr("x1",d=>Math.round(d)+0.5).attr("x2",d=>Math.round(d)+0.5).attr("y1",plot.top).attr("y2",plot.bottom)
  .attr("stroke","#f4c4b8").attr("stroke-dasharray","5,4").attr("stroke-width",1);

// lines
const line = d3.line().x((d,i)=>x(dates[i])).y(d=>y(d));
const lg = svg.append("g").attr("clip-path","url(#pclip)").append("g").attr("filter","url(#lshadow)");
lg.selectAll("path").data(seriesValues).join("path")
  .attr("d", d=>line(d)).attr("fill","none")
  .attr("stroke",(d,i)=>palette[i % palette.length])
  .attr("stroke-width",2).attr("stroke-linejoin","round");

// canvas border
svg.append("rect").attr("x",plot.left).attr("y",plot.top).attr("width",plot.right-plot.left).attr("height",plot.bottom-plot.top)
  .attr("fill","none").attr("stroke","#5a5a5a").attr("stroke-width",2.5);
svg.append("line").attr("x1",plot.left-1).attr("x2",plot.right+1).attr("y1",plot.bottom+1.5).attr("y2",plot.bottom+1.5)
  .attr("stroke","#5a5a5a").attr("stroke-width",3);

// y axis
const yAxis = d3.axisLeft(y).tickValues(yTicks).tickFormat(d3.format(",")).tickSize(0).tickPadding(6);
const yg = svg.append("g").attr("transform",`translate(${plot.left},0)`).call(yAxis);
yg.select(".domain").remove();
yg.selectAll("text").attr("fill",TXT).style("font-family",FONT).style("font-size","14px").style("letter-spacing",LS);

// x axis
const xTickDates = xTickDays.map((d,i)=>dates[i*5]);
const xAxis = d3.axisBottom(x).tickValues(xTickDates).tickSize(0).tickPadding(0).tickFormat("");
const xg = svg.append("g").attr("transform",`translate(0,${plot.bottom})`).call(xAxis);
xg.select(".domain").remove();
xg.selectAll(".tick").each(function(d,i){
  const t = d3.select(this).append("text").attr("text-anchor","middle").attr("fill",TXT)
    .style("font-family",FONT).style("font-size","14px").style("letter-spacing",LS);
  t.append("tspan").attr("x",0.6).attr("y",28).text(xTickDays[i]);
  t.append("tspan").attr("x",0.6).attr("y",47).text(xTickMonths[i]);
});

// titles
const cx = (plot.left+plot.right)/2;
svg.append("text").attr("x",cx).attr("y",48).attr("text-anchor","middle")
  .attr("fill",TXT).style("font-family",FONT).style("font-size","15px").style("font-weight","bold").style("letter-spacing","0.4px").text(chartTitle);
svg.append("text").attr("x",cx).attr("y",73).attr("text-anchor","middle")
  .attr("fill",TXT).style("font-family",FONT).style("font-size","15px").style("font-weight","bold").style("letter-spacing","0.4px").text(chartSubtitle);
svg.append("text").attr("transform",`translate(52,${(plot.top+plot.bottom)/2}) rotate(-90)`).attr("text-anchor","middle")
  .attr("fill",TXT).style("font-family",FONT).style("font-size","14px").style("letter-spacing","0.4px").text(yAxisTitle);

// legend
const leg = {x:126, y:720, w:1020, h:120};
svg.append("rect").attr("x",leg.x).attr("y",leg.y).attr("width",leg.w).attr("height",leg.h)
  .attr("fill","#ffffff").attr("stroke","#666").attr("stroke-width",1.5).attr("filter","url(#cshadow)");
const lgG = svg.append("g");
const items = seriesNames.map((n,i)=>({name:String(n), color:palette[i % palette.length]}));
const measure = lgG.append("text").style("font-family",FONT).style("font-size","14px").style("letter-spacing",LS);
items.forEach(it=>{ measure.text(it.name); it.tw = measure.node().getComputedTextLength(); });
measure.remove();
const sw = 15, swGap = 7, itemGap = 38, maxRow = 1003;
const rows = []; let cur = [], curW = 0;
items.forEach(it=>{
  const w = sw + swGap + it.tw;
  const add = cur.length ? itemGap + w : w;
  if (curW + add > maxRow && cur.length) { rows.push({items:cur, w:curW}); cur = [it]; curW = w; }
  else { cur.push(it); curW += add; }
});
if (cur.length) rows.push({items:cur, w:curW});
rows.forEach((r,ri)=>{
  let xx = leg.x + leg.w/2 - r.w/2;
  const cy = leg.y + 16 + ri*23.8;
  r.items.forEach(it=>{
    lgG.append("rect").attr("x",xx).attr("y",cy-7).attr("width",sw).attr("height",14).attr("fill",it.color);
    lgG.append("text").attr("x",xx+sw+swGap).attr("y",cy+5).attr("fill",TXT)
      .style("font-family",FONT).style("font-size","14px").style("letter-spacing",LS).text(it.name);
    xx += sw + swGap + it.tw + itemGap;
  });
});
</script></body></html>
